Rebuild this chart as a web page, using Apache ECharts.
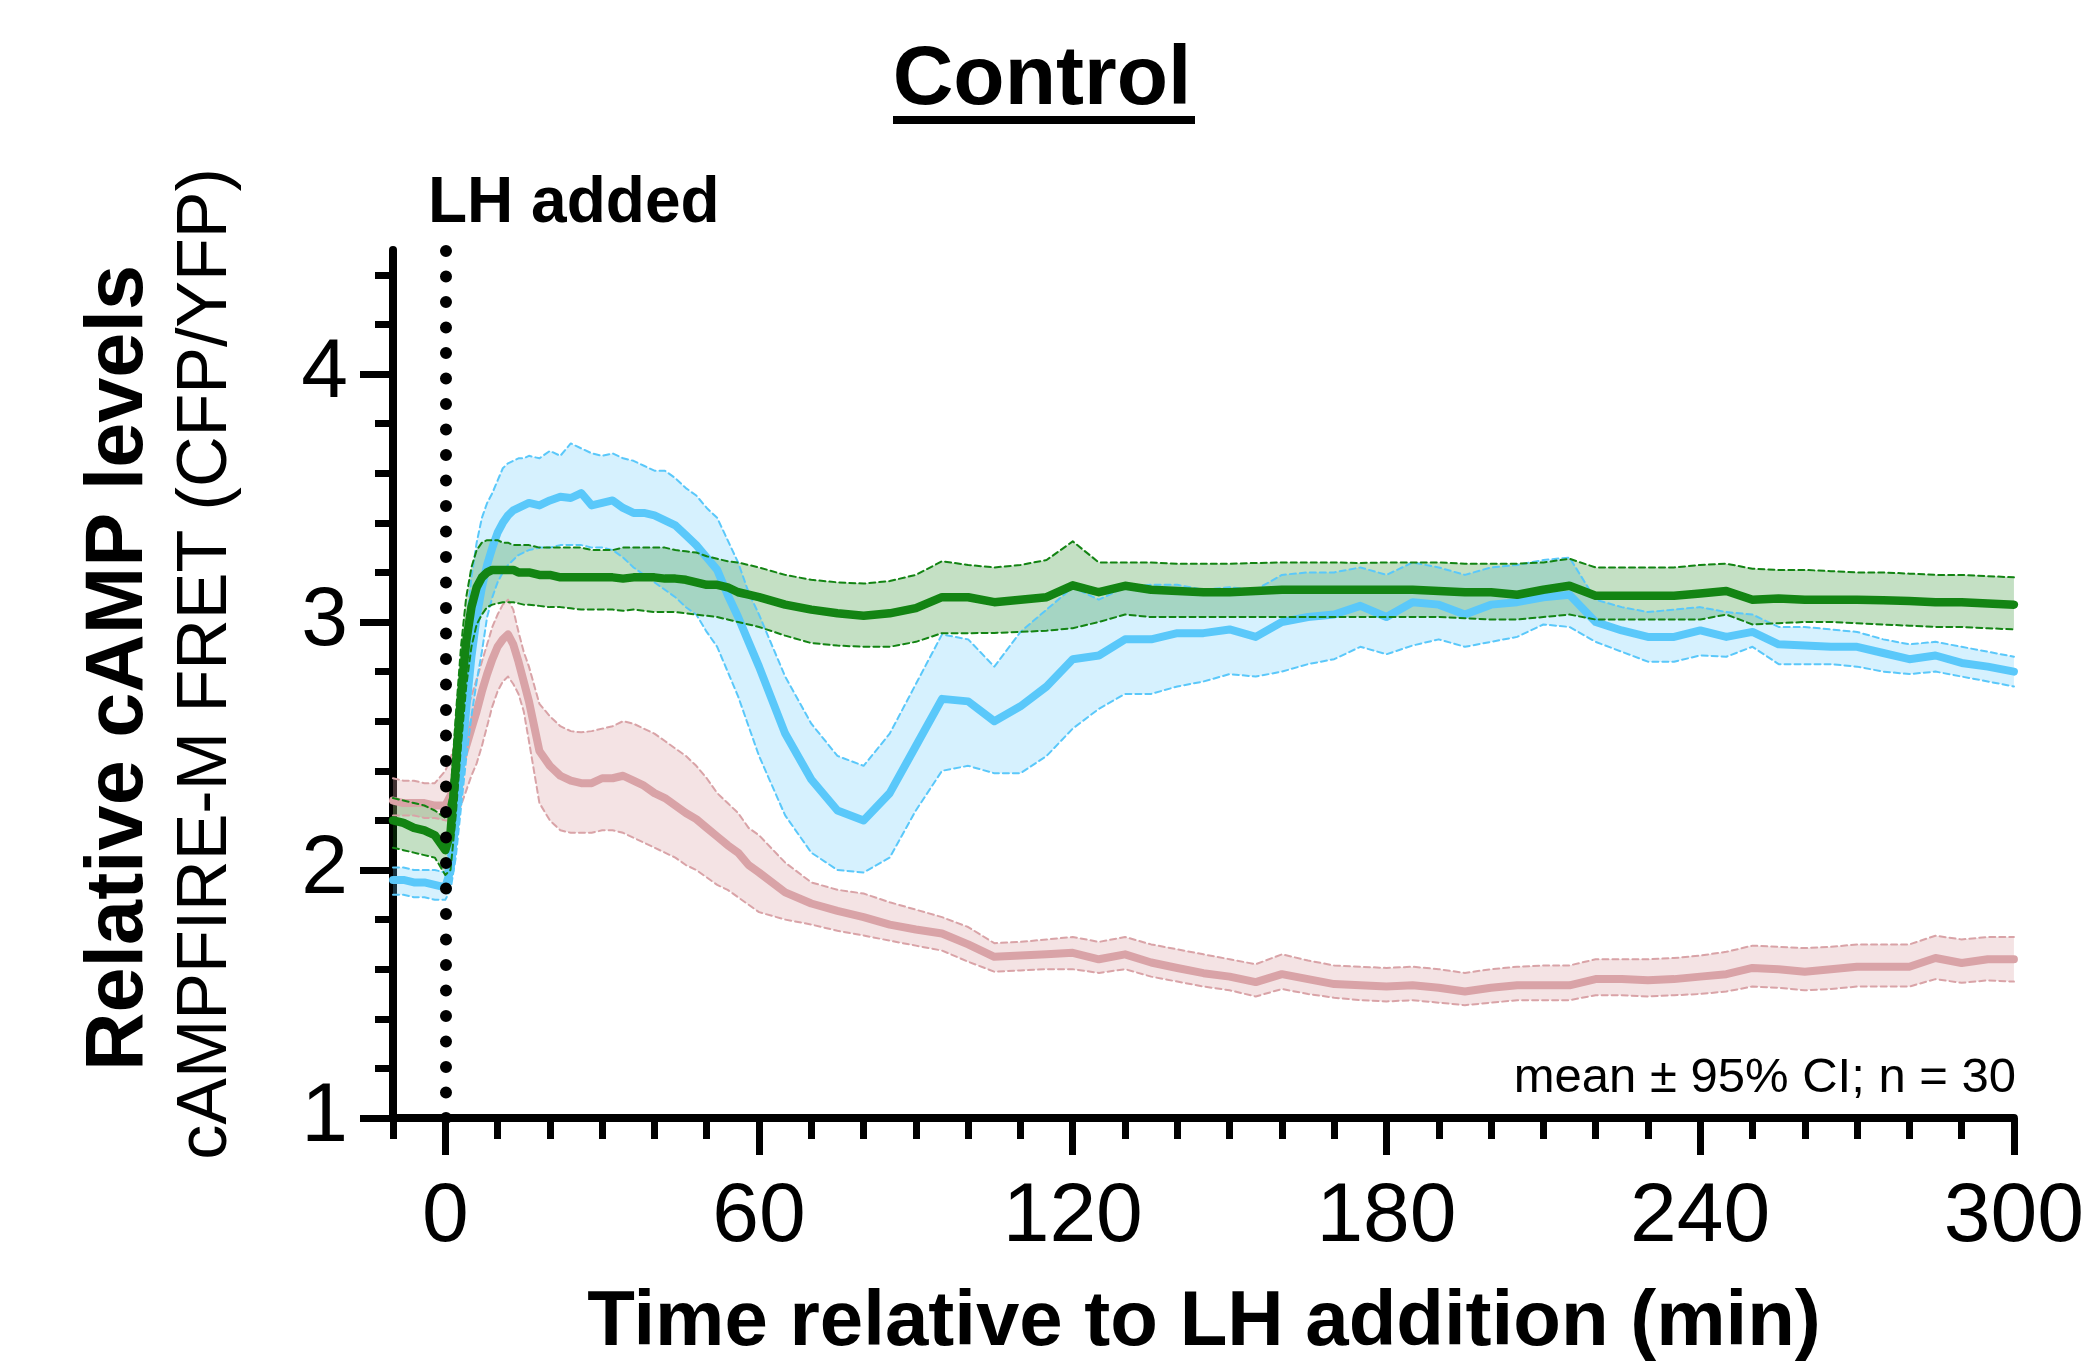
<!DOCTYPE html>
<html><head><meta charset="utf-8">
<script src="https://cdn.jsdelivr.net/npm/echarts@6/dist/echarts.min.js"></script>
<style>html,body{margin:0;padding:0;background:#fff}#c{width:2087px;height:1369px}</style>
</head><body><div id="c"></div>
<script>
// ---- time grid (minutes relative to LH addition) ----
const T = [-10,-8,-6,-4,-2,0,
  1,2,3,4,5,6,7,8,9,10,11,12,13,14,15,16,
  18,20,22,24,26,28,30,32,34,36,38,40,42,44,46,48,50,52,54,56,58,60,
  65,70,75,80,85,90,95,100,105,110,115,120,125,130,135,140,145,150,155,160,165,170,175,180,185,190,195,200,205,210,215,220,225,230,235,240,245,250,255,260,265,270,275,280,285,290,295,300];

// ---- blue series ----
const blueMean = [1.96,1.96,1.95,1.95,1.94,1.93,
  2.00,2.20,2.42,2.65,2.86,3.02,3.14,3.23,3.30,3.36,3.40,3.43,3.45,3.46,3.47,3.48,
  3.47,3.49,3.505,3.50,3.52,3.47,3.48,3.49,3.46,3.44,3.44,3.43,3.41,3.39,3.35,3.31,3.26,3.21,3.11,3.02,2.92,2.82,
  2.55,2.365,2.24,2.20,2.31,2.50,2.69,2.68,2.60,2.66,
  2.74,2.85,2.865,2.93,2.93,2.955,2.955,2.97,2.94,3.00,
  3.02,3.03,3.065,3.02,3.08,3.07,3.03,3.07,3.08,3.10,
  3.11,3.00,2.966,2.94,2.94,2.966,2.94,2.96,2.91,2.905,
  2.90,2.90,2.875,2.85,2.865,2.835,2.82,2.80];
const blueUpper = [2.01,2.01,2.00,2.00,2.00,1.99,
  2.12,2.40,2.70,2.98,3.18,3.32,3.42,3.48,3.52,3.57,3.62,3.64,3.65,3.66,3.66,3.67,
  3.66,3.69,3.67,3.72,3.70,3.68,3.67,3.68,3.66,3.65,3.63,3.61,3.61,3.58,3.54,3.51,3.46,3.42,3.33,3.24,3.12,3.03,
  2.78,2.59,2.46,2.42,2.55,2.75,2.95,2.93,2.82,2.96,
  3.05,3.14,3.09,3.14,3.15,3.15,3.13,3.14,3.13,3.19,
  3.20,3.20,3.22,3.19,3.24,3.22,3.19,3.22,3.23,3.25,
  3.26,3.09,3.06,3.04,3.05,3.06,3.04,3.03,2.98,2.98,
  2.97,2.96,2.93,2.91,2.92,2.90,2.88,2.86];
const blueLower = [1.90,1.90,1.89,1.89,1.88,1.88,
  1.92,2.05,2.25,2.45,2.62,2.76,2.88,3.02,3.10,3.16,3.20,3.23,3.25,3.27,3.28,3.29,
  3.30,3.30,3.31,3.31,3.31,3.30,3.30,3.29,3.26,3.22,3.19,3.16,3.13,3.10,3.06,3.03,2.96,2.90,2.80,2.70,2.58,2.46,
  2.22,2.07,2.00,1.99,2.05,2.24,2.40,2.42,2.39,2.39,
  2.46,2.57,2.65,2.71,2.71,2.74,2.76,2.79,2.78,2.80,
  2.83,2.85,2.90,2.87,2.905,2.93,2.90,2.92,2.94,2.99,
  2.98,2.92,2.88,2.84,2.84,2.865,2.86,2.90,2.83,2.83,
  2.83,2.82,2.80,2.79,2.80,2.78,2.76,2.74];

// ---- pink series ----
const pinkMean = [2.28,2.27,2.27,2.27,2.26,2.26,
  2.30,2.36,2.43,2.50,2.57,2.64,2.72,2.79,2.85,2.90,2.93,2.95,2.91,2.84,2.76,2.68,
  2.48,2.42,2.38,2.36,2.35,2.35,2.37,2.37,2.38,2.36,2.34,2.31,2.29,2.26,2.23,2.205,2.17,2.135,2.10,2.07,2.02,1.99,
  1.91,1.865,1.835,1.81,1.78,1.76,1.744,1.70,1.65,1.655,
  1.66,1.666,1.64,1.66,1.627,1.605,1.584,1.57,1.548,1.58,
  1.56,1.54,1.535,1.53,1.535,1.525,1.51,1.525,1.535,1.535,
  1.535,1.56,1.56,1.555,1.56,1.57,1.58,1.605,1.60,1.59,
  1.60,1.61,1.61,1.61,1.645,1.625,1.64,1.64];
const pinkUpper = [2.37,2.36,2.36,2.35,2.35,2.40,
  2.45,2.52,2.58,2.64,2.70,2.77,2.84,2.91,2.98,3.03,3.07,3.09,3.05,2.96,2.88,2.82,
  2.67,2.62,2.58,2.56,2.555,2.56,2.57,2.58,2.60,2.59,2.57,2.55,2.52,2.49,2.46,2.42,2.37,2.31,2.27,2.23,2.17,2.14,
  2.03,1.95,1.92,1.905,1.87,1.84,1.81,1.77,1.705,1.71,
  1.72,1.73,1.71,1.73,1.70,1.68,1.66,1.64,1.62,1.66,
  1.635,1.615,1.61,1.605,1.61,1.60,1.585,1.60,1.61,1.615,
  1.615,1.64,1.64,1.64,1.645,1.655,1.67,1.695,1.69,1.685,
  1.69,1.70,1.70,1.70,1.735,1.72,1.73,1.73];
const pinkLower = [2.22,2.22,2.22,2.21,2.21,2.20,
  2.20,2.22,2.26,2.32,2.38,2.43,2.50,2.58,2.66,2.72,2.76,2.78,2.75,2.71,2.64,2.52,
  2.27,2.20,2.16,2.15,2.15,2.15,2.16,2.16,2.15,2.13,2.11,2.09,2.07,2.05,2.02,2.00,1.97,1.94,1.92,1.89,1.86,1.83,
  1.80,1.78,1.755,1.736,1.715,1.695,1.675,1.63,1.59,1.595,
  1.60,1.60,1.585,1.60,1.57,1.55,1.53,1.515,1.49,1.52,
  1.50,1.485,1.475,1.47,1.475,1.465,1.455,1.465,1.475,1.475,
  1.475,1.495,1.495,1.49,1.495,1.50,1.51,1.53,1.525,1.515,
  1.52,1.53,1.53,1.53,1.56,1.545,1.555,1.55];

// ---- green series ----
const greenMean = [2.20,2.19,2.17,2.16,2.14,2.08,
  2.15,2.42,2.70,2.92,3.06,3.14,3.18,3.20,3.21,3.21,3.21,3.21,3.21,3.20,3.20,3.20,
  3.19,3.19,3.18,3.18,3.18,3.18,3.18,3.18,3.175,3.18,3.18,3.18,3.175,3.175,3.17,3.16,3.15,3.15,3.14,3.12,3.11,3.10,
  3.07,3.05,3.035,3.025,3.035,3.056,3.10,3.10,3.08,3.09,
  3.10,3.148,3.12,3.146,3.13,3.125,3.12,3.12,3.125,3.13,
  3.13,3.13,3.13,3.13,3.13,3.125,3.12,3.12,3.11,3.13,
  3.146,3.106,3.106,3.106,3.106,3.115,3.125,3.09,3.095,3.09,
  3.09,3.09,3.088,3.085,3.08,3.08,3.075,3.07];
const greenUpper = [2.29,2.28,2.27,2.26,2.24,2.21,
  2.30,2.62,2.90,3.10,3.22,3.29,3.32,3.33,3.33,3.33,3.32,3.32,3.31,3.31,3.31,3.31,
  3.30,3.30,3.30,3.30,3.30,3.29,3.29,3.29,3.30,3.30,3.30,3.30,3.30,3.29,3.285,3.28,3.265,3.255,3.245,3.24,3.23,3.22,
  3.19,3.17,3.16,3.155,3.165,3.19,3.245,3.23,3.22,3.23,
  3.25,3.325,3.24,3.24,3.24,3.235,3.235,3.235,3.238,3.24,
  3.24,3.24,3.238,3.24,3.24,3.24,3.235,3.235,3.235,3.24,
  3.255,3.22,3.22,3.22,3.22,3.23,3.235,3.215,3.21,3.21,
  3.205,3.20,3.20,3.195,3.19,3.19,3.185,3.18];
const greenLower = [2.09,2.08,2.07,2.06,2.05,1.98,
  2.00,2.22,2.50,2.74,2.90,2.99,3.03,3.06,3.07,3.075,3.08,3.08,3.08,3.075,3.07,3.07,
  3.065,3.06,3.06,3.055,3.05,3.05,3.05,3.05,3.045,3.05,3.045,3.04,3.04,3.04,3.035,3.03,3.025,3.02,3.01,3.00,2.99,2.98,
  2.945,2.915,2.905,2.90,2.90,2.92,2.955,2.955,2.956,2.96,
  2.965,2.975,3.00,3.03,3.02,3.02,3.02,3.02,3.02,3.02,
  3.02,3.02,3.02,3.02,3.02,3.02,3.015,3.01,3.01,3.02,
  3.03,3.01,3.01,3.01,3.01,3.01,3.03,2.99,2.995,3.00,
  3.00,2.995,2.99,2.985,2.98,2.98,2.975,2.97];

// ---- ticks ----
const xTickLabels = [0,60,120,180,240,300];
const xMinorTicks = [-10,10,20,30,40,50,70,80,90,100,110,130,140,150,160,170,190,200,210,220,230,250,260,270,280,290];
const yTickLabels = [1,2,3,4];
const yMinorTicks = [1.2,1.4,1.6,1.8,2.2,2.4,2.6,2.8,3.2,3.4,3.6,3.8,4.2,4.4];
const lhTime = 0;

const FONT = '"Liberation Sans", Arial, Helvetica, sans-serif';

function band(lo, hi, fill) {
  return {
    type: 'custom', silent: true, xAxisIndex: 0, yAxisIndex: 0,
    data: [[T[0], lo[0]]],
    renderItem: function (params, api) {
      const pts = [];
      for (let i = 0; i < T.length; i++) pts.push(api.coord([T[i], hi[i]]));
      for (let i = T.length - 1; i >= 0; i--) pts.push(api.coord([T[i], lo[i]]));
      return { type: 'polygon', shape: { points: pts }, style: { fill: fill } };
    }
  };
}
function line(vals, color, width, dash) {
  return {
    type: 'line', silent: true, xAxisIndex: 0, yAxisIndex: 0, symbol: 'none',
    data: T.map((t, i) => [t, vals[i]]),
    lineStyle: { color: color, width: width, type: dash || 'solid', cap: 'round', join: 'round' }
  };
}

const PINK = '#d9a3a7', BLUE = '#5ac8fa', GREEN = '#138413';

const chart = echarts.init(document.getElementById('c'), null, { renderer: 'canvas', width: 2087, height: 1369 });
chart.setOption({
  animation: false,
  backgroundColor: '#fff',
  grid: { left: 393, right: 70, top: 250, bottom: 251, containLabel: false },
  xAxis: [
    { type: 'value', min: -10, max: 300, position: 'bottom',
      axisLine: { show: true, onZero: false, lineStyle: { color: '#000', width: 8 } },
      axisTick: { show: true, customValues: xTickLabels, length: 37, lineStyle: { color: '#000', width: 7 } },
      axisLabel: { show: true, customValues: xTickLabels, fontSize: 84, color: '#000', fontFamily: FONT, margin: 58 },
      splitLine: { show: false } },
    { type: 'value', min: -10, max: 300, position: 'bottom',
      axisLine: { show: false, onZero: false },
      axisTick: { show: true, customValues: xMinorTicks, length: 21, lineStyle: { color: '#000', width: 7 } },
      axisLabel: { show: false }, splitLine: { show: false } }
  ],
  yAxis: [
    { type: 'value', min: 1, max: 4.5, position: 'left',
      axisLine: { show: true, onZero: false, lineStyle: { color: '#000', width: 8 } },
      axisTick: { show: true, customValues: yTickLabels, length: 33, lineStyle: { color: '#000', width: 7 } },
      axisLabel: { show: true, customValues: yTickLabels, fontSize: 84, color: '#000', fontFamily: FONT, margin: 45 },
      splitLine: { show: false } },
    { type: 'value', min: 1, max: 4.5, position: 'left',
      axisLine: { show: false, onZero: false },
      axisTick: { show: true, customValues: yMinorTicks, length: 18, lineStyle: { color: '#000', width: 7 } },
      axisLabel: { show: false }, splitLine: { show: false } }
  ],
  series: [
    { type: 'line', silent: true, data: [], symbol: 'none',
      markLine: { silent: true, symbol: ['none', 'none'], label: { show: false },
        lineStyle: { color: '#000', width: 12, type: [0, 25.5], cap: 'round' },
        data: [[{ coord: [lhTime, 1] }, { coord: [lhTime, 4.5] }]] } },
    band(pinkLower, pinkUpper, 'rgba(217,163,167,0.3)'),
    line(pinkUpper, PINK, 2, [6, 4]),
    line(pinkLower, PINK, 2, [6, 4]),
    line(pinkMean, PINK, 8),
    band(blueLower, blueUpper, 'rgba(90,200,250,0.25)'),
    line(blueUpper, BLUE, 2, [6, 4]),
    line(blueLower, BLUE, 2, [6, 4]),
    line(blueMean, BLUE, 8),
    band(greenLower, greenUpper, 'rgba(19,132,19,0.25)'),
    line(greenUpper, GREEN, 2, [6, 4]),
    line(greenLower, GREEN, 2, [6, 4]),
    line(greenMean, GREEN, 8.5)
  ],
  graphic: [
    { type: 'text', x: 1042, y: 81, silent: true,
      style: { text: 'Control', fontSize: 84, fontWeight: 'bold', fontFamily: FONT, fill: '#000', align: 'center', verticalAlign: 'middle' } },
    { type: 'rect', silent: true, shape: { x: 893, y: 116, width: 302, height: 8 }, style: { fill: '#000' } },
    { type: 'text', x: 428, y: 204, silent: true,
      style: { text: 'LH added', fontSize: 64, fontWeight: 'bold', fontFamily: FONT, fill: '#000', align: 'left', verticalAlign: 'middle' } },
    { type: 'text', x: 2016, y: 1078, silent: true,
      style: { text: 'mean ± 95% CI; n = 30', fontSize: 49, fontFamily: FONT, fill: '#000', align: 'right', verticalAlign: 'middle' } },
    { type: 'text', x: 1204, y: 1323, silent: true,
      style: { text: 'Time relative to LH addition (min)', fontSize: 78, fontWeight: 'bold', fontFamily: FONT, fill: '#000', align: 'center', verticalAlign: 'middle' } },
    { type: 'text', x: 120, y: 668, rotation: Math.PI / 2, silent: true,
      style: { text: 'Relative cAMP levels', fontSize: 81, fontWeight: 'bold', fontFamily: FONT, fill: '#000', align: 'center', verticalAlign: 'middle' } },
    { type: 'text', x: 207, y: 664, rotation: Math.PI / 2, silent: true,
      style: { text: 'cAMPFIRE-M FRET (CFP/YFP)', fontSize: 70, fontFamily: FONT, fill: '#000', align: 'center', verticalAlign: 'middle' } }
  ]
});
</script>
</body></html>
